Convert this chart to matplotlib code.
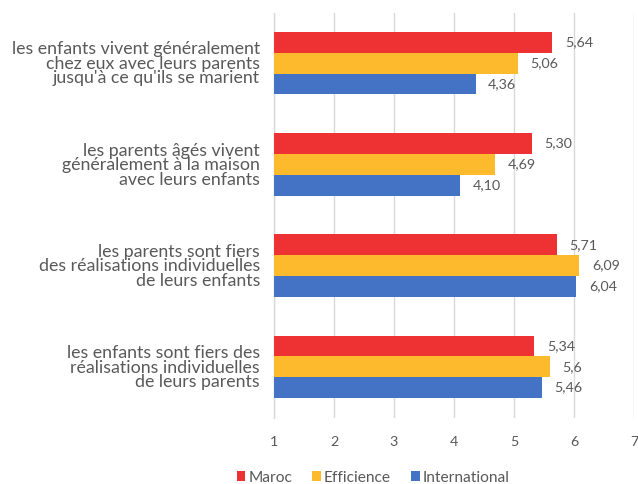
import matplotlib
matplotlib.use("Agg")
import matplotlib.pyplot as plt
import numpy as np

categories = [
    "les enfants vivent généralement\nchez eux avec leurs parents\njusqu'à ce qu'ils se marient",
    "les parents âgés vivent\ngénéralement à la maison\navec leurs enfants",
    "les parents sont fiers\ndes réalisations individuelles\nde leurs enfants",
    "les enfants sont fiers des\nréalisations individuelles\nde leurs parents",
]
series_names = ["Maroc", "Efficience", "International"]
maroc = [5.64, 5.30, 5.71, 5.34]
efficience = [5.06, 4.69, 6.09, 5.60]
international = [4.36, 4.10, 6.04, 5.46]
value_labels = [
    ["5,64", "5,30", "5,71", "5,34"],
    ["5,06", "4,69", "6,09", "5,6"],
    ["4,36", "4,10", "6,04", "5,46"],
]
colors = ["#EE3233", "#FDBA2C", "#4472C4"]
text_color = "#595959"

plt.rcParams["font.family"] = ["Lato", "DejaVu Sans"]

fig = plt.figure(figsize=(6.38, 4.84), dpi=100)
ax = fig.add_axes([274 / 638, 1 - 417.5 / 484, 360 / 638, 405 / 484])

n = len(categories)
y = np.arange(n)
h = 0.205
offsets = [-h, 0, h]
all_series = [maroc, efficience, international]
for s, (vals, off, col, name) in enumerate(zip(all_series, offsets, colors, series_names)):
    left = 1
    ax.barh(y + off, np.array(vals) - left, left=left, height=h, color=col,
            label=name, zorder=3)
    for yi, v, lab in zip(y + off, vals, value_labels[s]):
        ax.text(v + 0.21, yi, lab, va="center", ha="left", fontsize=10.3, color=text_color)

ax.set_xlim(1, 7)
ax.set_ylim(n - 0.5, -0.5)
ax.set_xticks(range(1, 8))
ax.set_yticks(y)
ax.set_yticklabels(categories, fontsize=12.8, color=text_color, linespacing=0.88)
ax.tick_params(axis="y", length=0, pad=10)
ax.tick_params(axis="x", length=0, pad=13, labelsize=10.3, labelcolor=text_color)
ax.grid(axis="x", color="#D9D9D9", linewidth=1, zorder=0)
for sp in ["top", "right", "bottom"]:
    ax.spines[sp].set_visible(False)
ax.spines["left"].set_color("#D9D9D9")
ax.spines["left"].set_linewidth(1)

leg = fig.legend(loc="lower center", bbox_to_anchor=(0.585, -0.03), ncol=3, frameon=False,
                 fontsize=11.2, handlelength=0.55, handleheight=0.55, handletextpad=0.2,
                 columnspacing=1.3)
for t in leg.get_texts():
    t.set_color(text_color)

fig.savefig("out.png", dpi=100)
